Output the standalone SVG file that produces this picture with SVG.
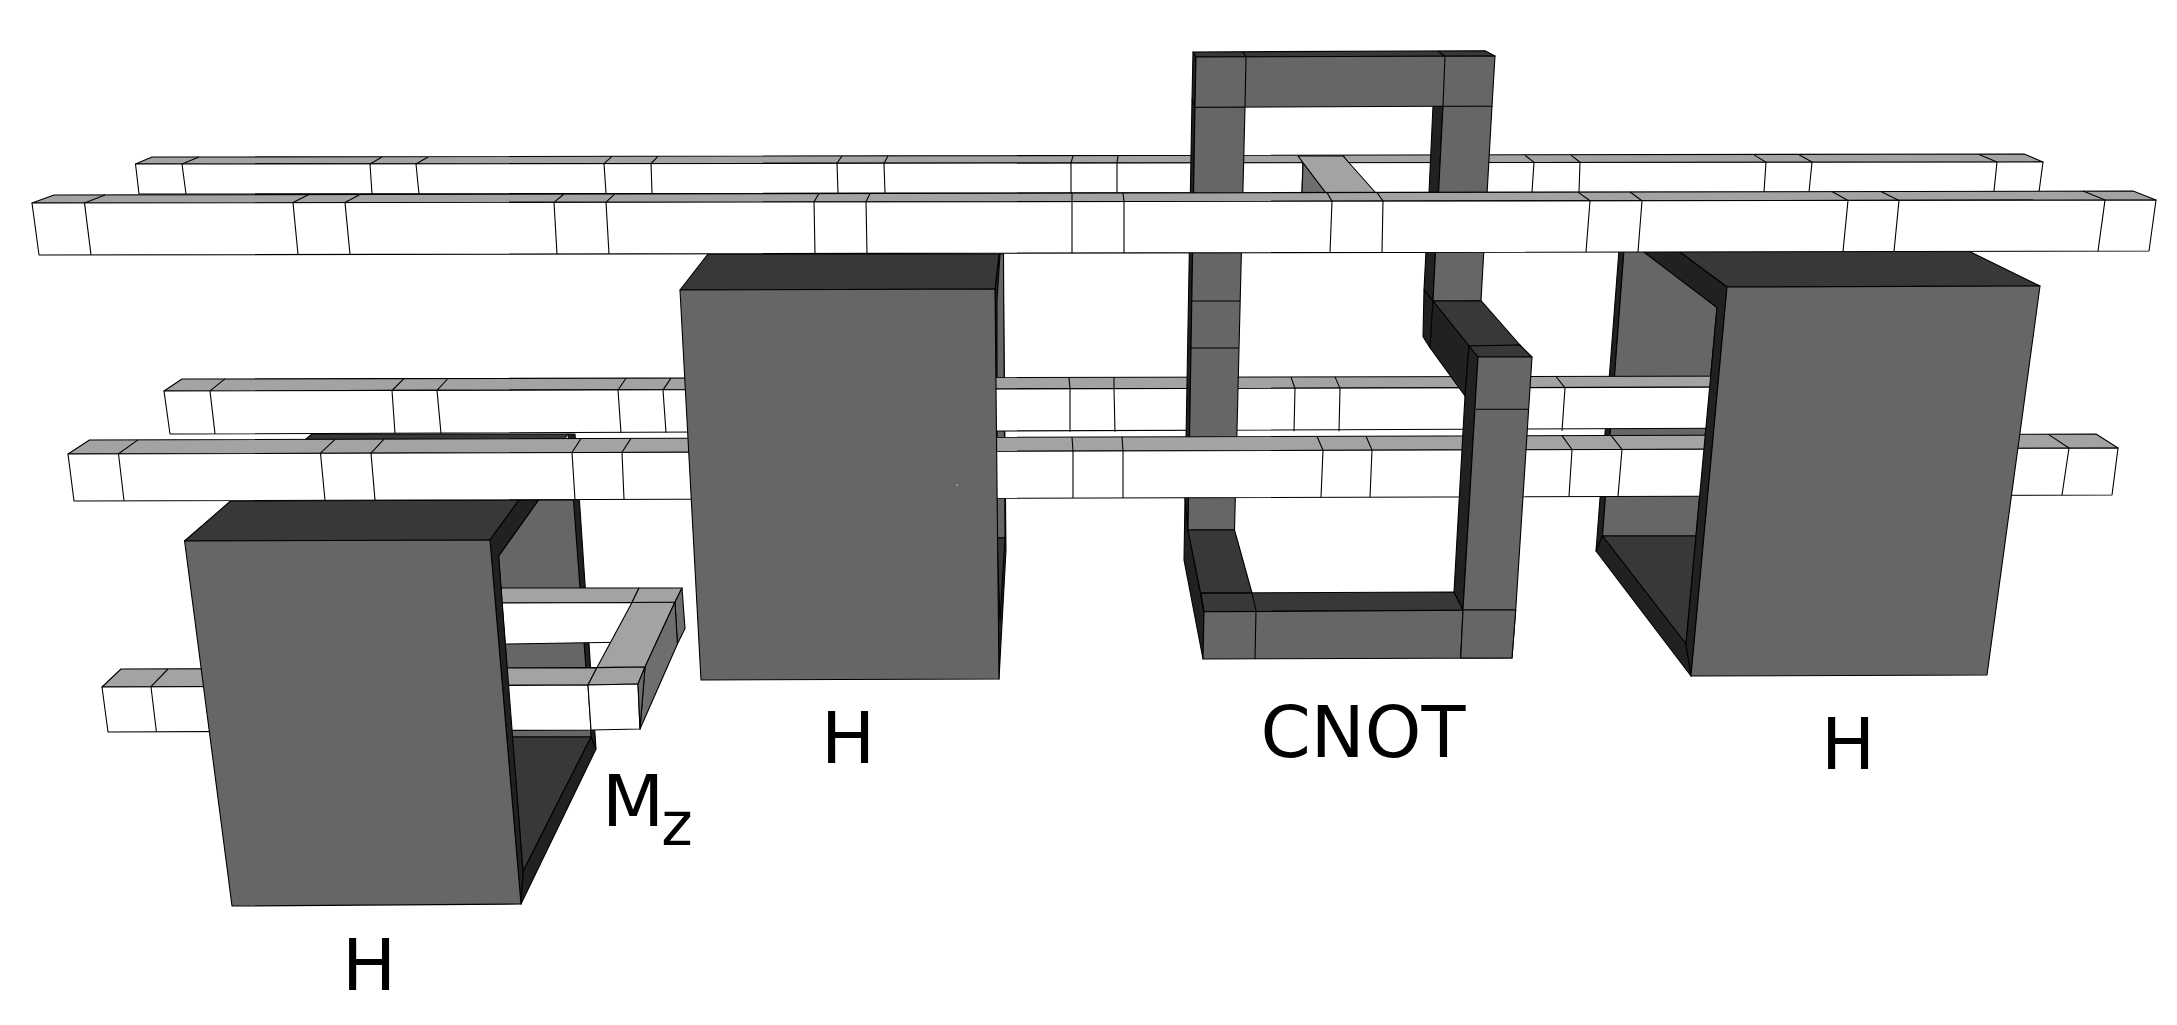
<svg xmlns="http://www.w3.org/2000/svg" width="2177" height="1025" viewBox="0 0 2177 1025">
<style>
polygon,path{stroke:#000;stroke-width:1.1;stroke-linejoin:round}
path{fill:none}
.w{fill:#fff}.l{fill:#a3a3a3}.m{fill:#666}.d{fill:#383838}.s{fill:#212121}.g{fill:#6e6e6e}
text{font-family:"DejaVu Sans",sans-serif;fill:#000;font-size:72px}
</style>
<rect width="2177" height="1025" fill="#fff"/>
<g id="bar-a">
<polygon class="l" points="135.5,164 152,157 2024,154 2043,162"/>
<polygon class="w" points="135.5,164 2043,162 2039,192 139,194"/>
<path d="M199,157L182,164L186,194M382,157L370,164L372,194M428,157L416,164L419,194M612,156.4L604,163.6L606,193M658,156.3L651,163.5L652,193M842,156L837,163.3L838,193M888,156L884,163.2L885,193M1073,155.8L1071,163L1071,193M1118,155.7L1117,163L1117,193M1298,155.5L1303,162.7L1302,192M1343,155.4L1348,162.6L1347,192M1525,155.2L1534,162.4L1532,192M1571,155.1L1580,162.3L1579,192M1754,154.9L1766,162.2L1764,192M1799,154.8L1812,162.1L1809,192M1979,154.6L1997,162L1994,191"/>
</g>
<g id="link-a-b">
<polygon class="g" points="1303,162.7 1302,192.7 1326,192.7"/>
<polygon class="l" points="1298,156 1343,156 1383,201 1332,201"/>
</g>
<g id="gate-h2-back">
<polygon class="s" points="995,289 999,254 1003,254 1006,550 999,679"/>
<polygon class="m" points="997,300 1000,254 1003.5,254 1005,538 997,538"/>
<polygon class="d" points="997,538 1005,538 1000,620"/>
</g>
<g id="gate-h3-back">
<polygon class="s" points="1619,250 1596,551 1602.5,536 1624,250"/>
<polygon class="m" points="1624,250 1645,250 1717,307.5 1696,536 1602.5,536"/>
<polygon class="d" points="1602.5,536 1696,536 1686,644"/>
<polygon class="s" points="1596,551 1602.5,536 1686,644 1691,676"/>
</g>
<g id="gate-h1-back">
<polygon class="d" points="184.6,541 312,434 568,434 490,540"/>
<polygon class="s" points="568,434 575,434 596,749 591,737"/>
<polygon class="m" points="498.6,556 538.5,500 573.5,500 591,737 512,737"/>
<polygon class="d" points="512,737 591,737 523,871.6"/>
<polygon class="s" points="521,904 596,749 591,737 523,871.6"/>
</g>
<g id="bar-c">
<polygon class="l" points="164,391 182,379 1800,376 1800,387"/>
<polygon class="w" points="164,391 1800,387 1800,428 170,434"/>
<path d="M225,378.9L210,390.9L215,433.9M404,378.6L392,390.5L395,433.5M448,378.5L437,390.4L441,433.4M626,378.2L618,390L621,432.9M671,378.1L663,389.9L666,432.8M1069,377.4L1070,389L1070,431.8M1114,377.3L1114,388.9L1115,431.7M1291,377L1295,388.5L1294,431.3M1335,376.9L1340,388.4L1339,431.2M1556,376.5L1565,387.9L1562,430.7"/>
</g>
<g id="cnot-back">
<polygon class="s" points="1185,498 1188,530 1204,612 1203,659 1184,560"/>
<polygon class="d" points="1193,52 1485,50.7 1495,56 1196,57"/>
<polygon class="s" points="1193,52 1196,57 1195,107 1192,100"/>
<polygon class="s" points="1192,100 1195,107 1188,530 1185,498"/>
<polygon class="m" points="1195,107 1245,107 1234.5,530 1188,530"/>
<polygon class="s" points="1433,106 1443,106 1433,301 1424,290 1429,192.7"/>
<polygon class="m" points="1443,106 1492,106 1481,300.7 1433,301"/>
<polygon class="m" points="1196,57 1495,56 1492,106 1195,107.3"/>
<path d="M1243,52L1246,57L1245,107M1438,51L1445,56.5L1443,106M1192,301L1240,301M1191,348L1239,348"/>
<polygon class="s" points="1424,290 1433,301 1430,347.7 1423,336.7"/>
<polygon class="d" points="1188,530 1234.5,530 1252,593 1256,610.7 1204,611.7 1200.7,593"/>
<polygon class="d" points="1200.7,593 1454,592 1463,610 1204,611.7"/>
<polygon class="m" points="1204,611.7 1515.7,610 1512,658 1203,659"/>
<path d="M1200.7,593L1252,593L1256,610.7L1255,659M1463,610L1460.7,658M1200.7,593L1204,611.7"/>
</g>
<g id="bar-e">
<polygon class="l" points="501,588 639,588 632,602.5 502,603"/>
<polygon class="w" points="502,603 632,602.5 632,642 505,644"/>
<polygon class="l" points="121,669 597,667.6 588,685 102,687"/>
<polygon class="w" points="102,687 588,685 591,730 108,732"/>
<path d="M168,669L151,686.7L156.4,731.8"/>
<polygon class="l" points="597,667.6 645,667 675,602 632,602.5"/>
<polygon class="l" points="632,602.5 675,602 682,588 639,588"/>
<polygon class="g" points="675,602 682,588 685,628.6 677.4,644"/>
<polygon class="g" points="645,667 675,602 677.4,644 640,729"/>
<polygon class="l" points="597,667.6 645,667 638,684 588,685"/>
<polygon class="w" points="588,685 638,684 640,729 591,730"/>
<polygon class="g" points="638,684 645,667 640,729"/>
</g>
<g id="gate-h1-front">
<polygon class="d" points="184.6,541 230.5,501 519,500 490,540"/>
<polygon class="s" points="490,540 519,500 538.5,500 498.6,556 523,871.6 521,904"/>
<polygon class="m" points="184.6,541 490,540 521,904 232,906"/>
</g>
<g id="bar-d">
<polygon class="l" points="68,454 89.5,440 2096,434 2118,448"/>
<polygon class="w" points="68,454 2118,448 2112,495 74,501"/>
<path d="M138,439.9L118.5,453.8L124,500.8M335,439.3L320.5,453.2L325,500.2M384,439.1L371,453.1L375,500.1M581,438.5L572,452.5L575,499.5M631,438.4L622,452.3L624,499.3M1072,437L1073,451L1073,498M1122,436.9L1123,450.8L1123,497.9M1317,436.3L1323,450.2L1321,497.3M1366,436.2L1372,450.1L1370,497.1M1562,435.6L1572,449.5L1569,496.5M1611,435.4L1622,449.3L1618,496.4M2048,434.1L2069,448L2062,495"/>
</g>
<g id="cnot-front">
<polygon class="d" points="1433,301 1481,300.7 1520,345 1469,346"/>
<polygon class="s" points="1433,301 1469,346 1465,396 1430,347.7"/>
<polygon class="d" points="1469,346 1520,345 1532,357 1478,357"/>
<polygon class="s" points="1469,346 1478,357 1463,610 1454,592 1465,396"/>
<polygon class="m" points="1478,357 1532,357 1515.7,610 1463,610"/>
<path d="M1475.7,409.3L1528,409.3"/>
<polygon class="m" points="1463,610 1515.7,610 1512,658 1460.7,658"/>
</g>
<g id="gate-h2-front">
<polygon class="d" points="680,290 708,254 999,254 995,289"/>
<polygon class="m" points="680,290 995,289 999,679 701,680"/>
<rect x="956.5" y="484.5" width="1.2" height="1.2" fill="#ddd"/>
</g>
<g id="gate-h3-front">
<polygon class="d" points="1727,287 1677,250 1966.5,250 2040,286"/>
<polygon class="s" points="1727,287 1677,250 1641,250 1717,307.5 1686,644 1691,676"/>
<polygon class="m" points="1727,287 2040,286 1987,675 1691,676"/>
</g>
<g id="bar-b">
<polygon class="l" points="32,203 54,195 2133,191 2156,200"/>
<polygon class="w" points="32,203 2156,200 2149,251 39,255"/>
<path d="M105,194.9L84.5,202.9L91,254.9M309,194.5L293,202.6L298,254.5M360,194.4L345,202.6L350,254.4M564,194L554,202.3L557,254M615,193.9L606,202.2L609,253.9M819,193.5L814,201.9L815,253.5M870,193.4L866,201.8L867,253.4M1072,193L1072,201.5L1072,253M1123,193L1124,201.5L1124,252.9M1327,192.6L1332,201.2L1330,252.5M1377,192.5L1383,201.1L1382,252.4M1578,192.1L1590,200.8L1586,252M1630,192L1642,200.7L1638,252M1832,191.6L1848,200.5L1843,251.6M1881,191.5L1899,200.4L1894,251.5M2083,191.1L2105,200.1L2098,251.1"/>
</g>
<g id="labels">
<text x="369" y="990" text-anchor="middle">H</text>
<text x="602" y="826">M<tspan font-size="60" dy="19" dx="-3">z</tspan></text>
<text x="848" y="763" text-anchor="middle">H</text>
<text x="1363" y="757" text-anchor="middle">CNOT</text>
<text x="1848" y="769" text-anchor="middle">H</text>
</g>
</svg>
